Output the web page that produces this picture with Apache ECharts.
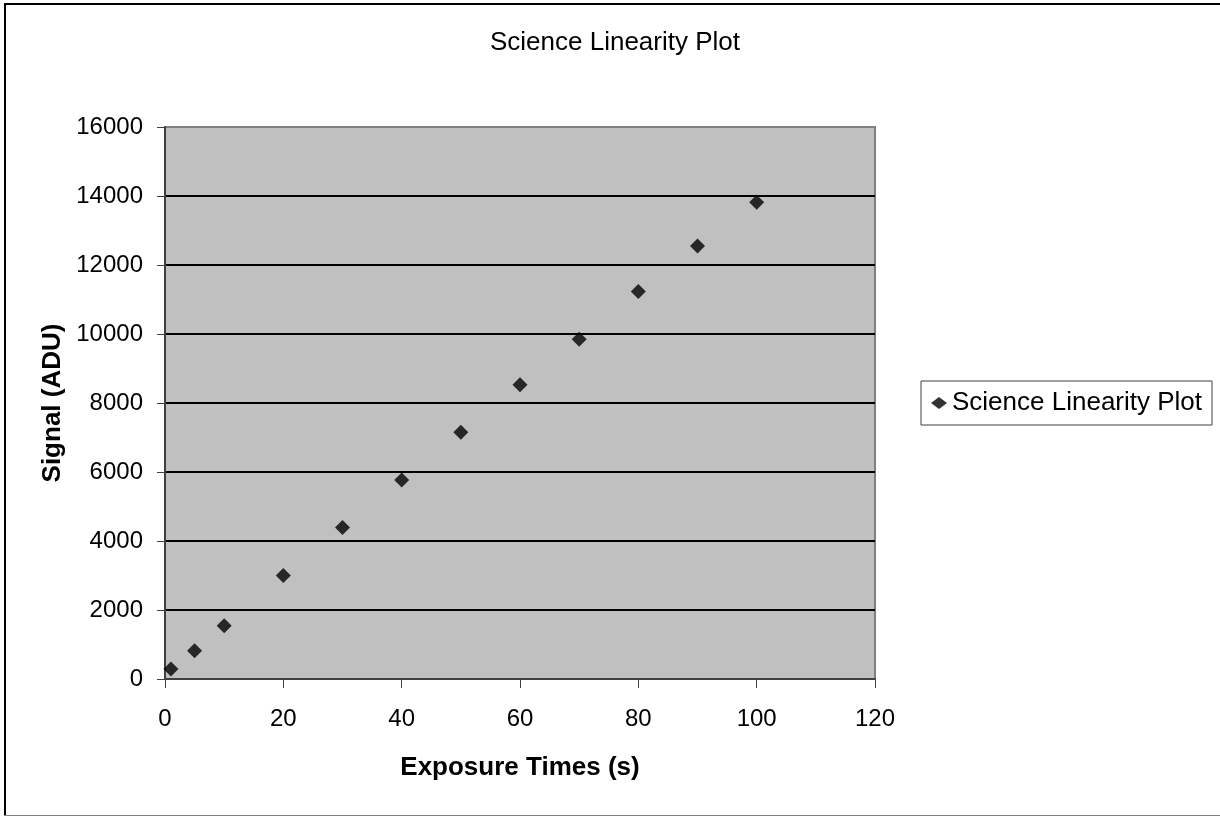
<!DOCTYPE html>
<html>
<head>
<meta charset="utf-8">
<script src="https://cdn.jsdelivr.net/npm/echarts@6/dist/echarts.min.js"></script>
<style>
html,body{margin:0;padding:0;background:#fff;}
#chart{width:1220px;height:816px;}
</style>
</head>
<body>
<div id="chart"></div>
<script>
const chartTitle = 'Science Linearity Plot';
const seriesName = 'Science Linearity Plot';
const xAxisName = 'Exposure Times (s)';
const yAxisName = 'Signal (ADU)';
const exposureTimes = [1, 5, 10, 20, 30, 40, 50, 60, 70, 80, 90, 100];
const signalADU = [290, 820, 1540, 3000, 4390, 5770, 7150, 8530, 9850, 11230, 12550, 13820];

const font = 'Liberation Sans, Arial, sans-serif';
const chart = echarts.init(document.getElementById('chart'), null, {renderer: 'canvas'});
chart.setOption({
  backgroundColor: '#ffffff',
  animation: false,
  title: {
    text: chartTitle,
    left: 610, top: 25, textAlign: 'center',
    textStyle: {fontFamily: font, fontSize: 26, fontWeight: 'normal', color: '#000'}
  },
  legend: {
    left: 921, top: 381,
    padding: [9, 10],
    itemWidth: 16, itemHeight: 12,
    borderColor: '#404040', borderWidth: 1,
    backgroundColor: '#fff',
    textStyle: {fontFamily: font, fontSize: 26, color: '#000'},
    data: [{name: seriesName, icon: 'diamond'}]
  },
  grid: {
    left: 165, top: 127, width: 710, height: 552,
    show: true, backgroundColor: '#c0c0c0', borderColor: '#808080', borderWidth: 2
  },
  xAxis: {
    type: 'value', min: 0, max: 120, interval: 20,
    name: xAxisName, nameLocation: 'middle', nameGap: 76,
    nameTextStyle: {fontFamily: font, fontSize: 26, fontWeight: 'bold', color: '#000'},
    axisLine: {show: true, onZero: false, lineStyle: {color: '#404040', width: 2}},
    axisTick: {show: true, inside: false, length: 9, lineStyle: {color: '#404040', width: 1}},
    axisLabel: {fontFamily: font, fontSize: 24, color: '#000', margin: 28},
    splitLine: {show: false}
  },
  yAxis: {
    type: 'value', min: 0, max: 16000, interval: 2000,
    name: yAxisName, nameLocation: 'middle', nameGap: 98,
    nameTextStyle: {fontFamily: font, fontSize: 26, fontWeight: 'bold', color: '#000'},
    axisLine: {show: true, lineStyle: {color: '#404040', width: 2}},
    axisTick: {show: true, inside: false, length: 8, lineStyle: {color: '#404040', width: 1}},
    axisLabel: {fontFamily: font, fontSize: 24, color: '#000', margin: 22, formatter: v => String(v)},
    splitLine: {show: true, showMinLine: false, showMaxLine: false, lineStyle: {color: '#000', width: 2}}
  },
  graphic: [
    {type: 'line', shape: {x1: 4, y1: 4, x2: 1220, y2: 4}, style: {stroke: '#000', lineWidth: 2}},
    {type: 'line', shape: {x1: 5, y1: 3, x2: 5, y2: 816}, style: {stroke: '#000', lineWidth: 2}},
    {type: 'line', shape: {x1: 4, y1: 815.5, x2: 1220, y2: 815.5}, style: {stroke: '#808080', lineWidth: 1}}
  ],
  series: [{
    name: seriesName,
    type: 'scatter',
    symbol: 'diamond',
    symbolSize: 15,
    itemStyle: {color: '#000'},
    data: exposureTimes.map((t, i) => [t, signalADU[i]])
  }]
});
</script>
</body>
</html>
